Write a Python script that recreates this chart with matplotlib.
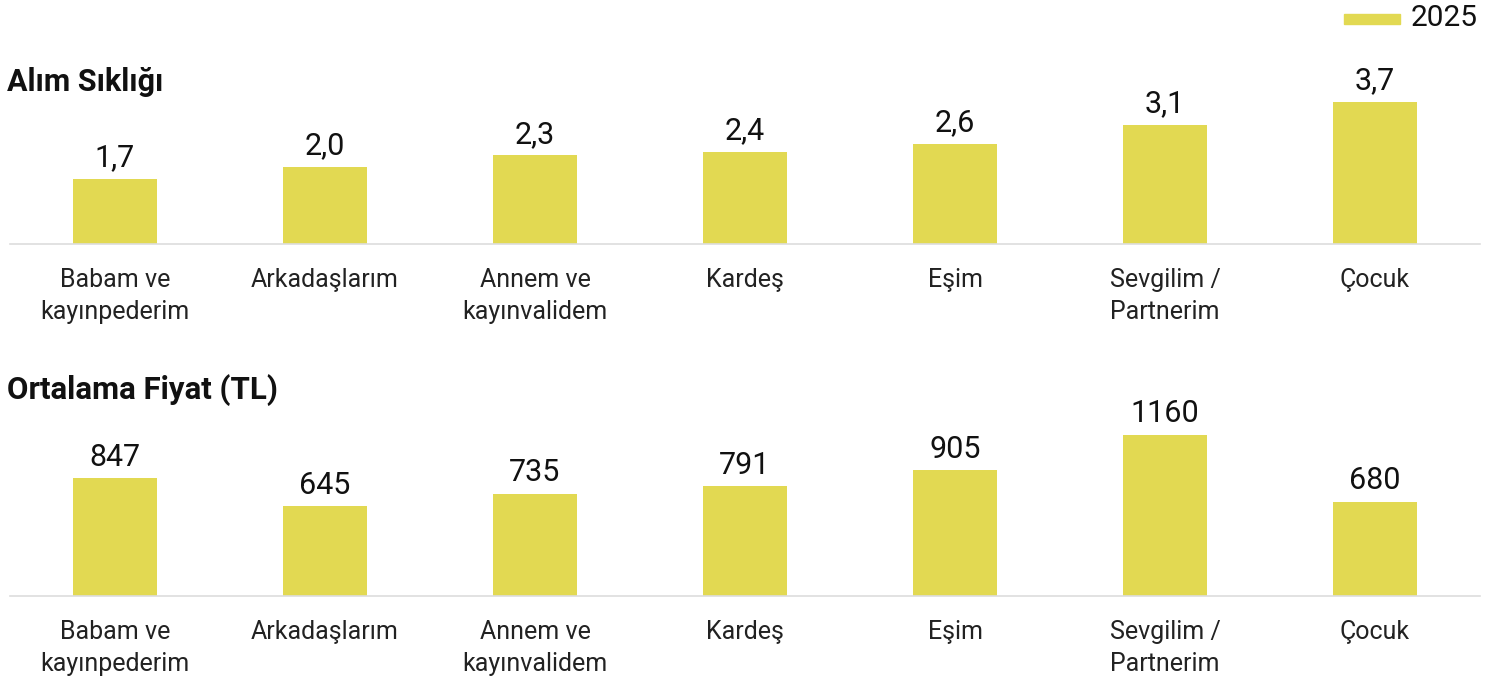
import matplotlib
matplotlib.use("Agg")
import matplotlib.pyplot as plt
from matplotlib.patches import Rectangle

plt.rcParams['font.family'] = ['Roboto', 'DejaVu Sans']

categories = ["Babam ve\nkayınpederim", "Arkadaşlarım", "Annem ve\nkayınvalidem",
              "Kardeş", "Eşim", "Sevgilim /\nPartnerim", "Çocuk"]
freq_values = [1.7, 2.0, 2.3, 2.4, 2.6, 3.1, 3.7]
price_values = [847, 645, 735, 791, 905, 1160, 680]
series_name = "2025"
titles = ["Alım Sıklığı", "Ortalama Fiyat (TL)"]

BAR = "#E2D952"
W, H = 1493, 695
fig = plt.figure(figsize=(W / 100, H / 100), dpi=100)


def px_axes(x0, y_top, x1, y_bot):
    return fig.add_axes([x0 / W, 1 - y_bot / H, (x1 - x0) / W, (y_bot - y_top) / H])


def draw(ax, values, ymax, fmt):
    x = range(len(categories))
    ax.bar(x, values, width=0.4, color=BAR, zorder=2)
    ax.set_xlim(-0.5, len(categories) - 0.5)
    ax.set_ylim(0, ymax)
    for s in ["top", "left", "right"]:
        ax.spines[s].set_visible(False)
    ax.spines["bottom"].set_color("#dddddd")
    ax.spines["bottom"].set_linewidth(1.2)
    ax.set_yticks([])
    ax.set_xticks(list(x))
    ax.set_xticklabels(categories, fontsize=18, color="#222222", linespacing=1.45, va="top")
    ax.tick_params(axis="x", length=0, pad=17)
    for xi, v in zip(x, values):
        ax.annotate(fmt(v), (xi, v), xytext=(0, 9), textcoords="offset points",
                    ha="center", va="baseline", fontsize=22, color="#111111")


ax1 = px_axes(10, 90, 1480, 244)
draw(ax1, freq_values, 4.0, lambda v: f"{v:.1f}".replace(".", ","))
ax2 = px_axes(10, 420, 1480, 596)
draw(ax2, price_values, 1268, lambda v: f"{v:d}")

fig.text(7 / W, 1 - 82 / H, titles[0], fontsize=22, fontweight="bold", va="center", ha="left", color="#111111")
fig.text(7 / W, 1 - 390 / H, titles[1], fontsize=22.5, fontweight="bold", va="center", ha="left", color="#111111")

# legend
fig.patches.append(Rectangle((1344 / W, 1 - 24 / H), 56 / W, 10 / H, transform=fig.transFigure,
                             color=BAR, figure=fig))
fig.text(1411 / W, 1 - 18 / H, series_name, fontsize=21.5, va="center", ha="left", color="#111111")

fig.savefig("out.png", dpi=100)
